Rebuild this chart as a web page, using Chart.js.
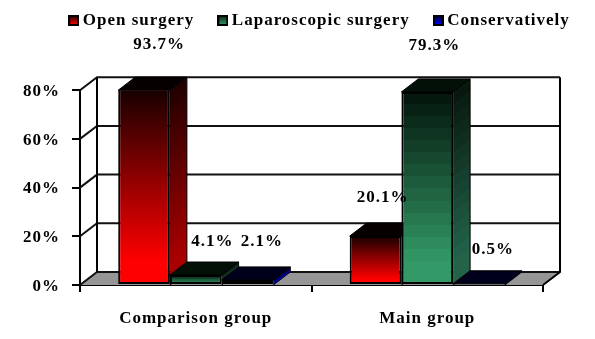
<!DOCTYPE html>
<html>
<head>
<meta charset="utf-8">
<style>
    html, body { margin: 0; padding: 0; background: #fff; }
    canvas { display: block; }
</style>
<script src="https://cdn.jsdelivr.net/npm/chart.js@4/dist/chart.umd.min.js"></script>
</head>
<body>
<canvas id="canvas" width="595" height="339"></canvas>
<script>
    var categories = ["Comparison group", "Main group"];
    var seriesNames = ["Open surgery", "Laparoscopic surgery", "Conservatively"];
    var openSurgery = [93.7, 20.1];
    var laparoscopic = [4.1, 79.3];
    var conservatively = [2.1, 0.5];

    /* where each value label sits, relative to its bar top */
    var labelShiftX = [[15, 7], [16.5, 7], [14.5, 14]];
    var labelShiftY = [[-46, -38], [-33, -46], [-38, -34]];

    var bottomColors = ["#ff0000", "#339966", "#0000ff"];
    var topColors = ["#180000", "#04180e", "#00001c"];
    var capColors = ["#060000", "#021008", "#00001c"];
    var sideColors = [["#200000", "#a80000"], ["#08180f", "#22634a"], ["#00001c", "#0000c0"]];
    var bands = [0, 16, 0];

    var depthX = 17;
    var depthY = 13;
    var fontFamily = "'Liberation Serif', 'Times New Roman', serif";
    var fontSize = 17;

    /* vertical fade, with hard steps when the series is banded */
    var fillStops = function (gradient, from, to, steps) {
        if (!steps) {
            gradient.addColorStop(0, from);
            gradient.addColorStop(0.88, to);
            gradient.addColorStop(1, to);
            return gradient;
        }
        var a = Chart.helpers.color(from), b = Chart.helpers.color(to);
        for (var i = 0; i < steps; i++) {
            var t = Math.min(1, i / (steps - 1) / 0.9);
            var c = a.clone().mix(b, 1 - t).rgbString();
            gradient.addColorStop(i / steps, c);
            gradient.addColorStop((i + 1) / steps, c);
        }
        return gradient;
    };

    var barFill = function (context) {
        var chart = context.chart, y = chart.scales.y;
        var value = Math.min(context.raw, y.max);
        var top = y.getPixelForValue(value), base = y.getPixelForValue(0);
        var i = context.datasetIndex;
        var gradient = chart.ctx.createLinearGradient(0, top, 0, base);
        return fillStops(gradient, topColors[i], bottomColors[i], bands[i]);
    };

    var legendMarker = function (i) {
        var c = document.createElement("canvas");
        c.width = 11;
        c.height = 11;
        var g = c.getContext("2d");
        g.fillStyle = fillStops(g.createLinearGradient(0, 0, 0, 11), topColors[i], bottomColors[i], 0);
        g.fillRect(0, 0, 11, 11);
        g.strokeStyle = "#000";
        g.lineWidth = 2;
        g.strokeRect(1, 1, 9, 9);
        return c;
    };

    var spacing = {
        id: "spacing",
        beforeUpdate: function (chart) { chart.ctx.letterSpacing = "1px"; },
        beforeDraw: function (chart) { chart.ctx.letterSpacing = "1px"; },
        afterLayout: function (chart) {
            chart.legend.left += 24;
            chart.legend.right += 24;
        }
    };

    var line = function (ctx, points, width, color) {
        ctx.beginPath();
        ctx.moveTo(points[0][0], points[0][1]);
        for (var i = 1; i < points.length; i++) {
            ctx.lineTo(points[i][0], points[i][1]);
        }
        ctx.lineWidth = width;
        ctx.strokeStyle = color;
        ctx.stroke();
    };

    var box3d = {
        id: "box3d",
        beforeDatasetsDraw: function (chart) {
            var ctx = chart.ctx, area = chart.chartArea, yScale = chart.scales.y;
            var left = area.left, right = area.right, base = area.bottom;
            ctx.save();

            /* floor */
            ctx.beginPath();
            ctx.moveTo(left, base);
            ctx.lineTo(left + depthX, base - depthY);
            ctx.lineTo(right + depthX, base - depthY);
            ctx.lineTo(right, base);
            ctx.closePath();
            ctx.fillStyle = "#969696";
            ctx.fill();

            /* back wall grid */
            yScale.ticks.forEach(function (tick) {
                var y = yScale.getPixelForValue(tick.value);
                line(ctx, [[left, y], [left + depthX, y - depthY], [right + depthX, y - depthY]], 2, "#111");
            });
            line(ctx, [[left + depthX, area.top - depthY], [left + depthX, base - depthY]], 2, "#000");
            line(ctx, [[right + depthX, area.top - depthY], [right + depthX, base - depthY], [right, base]], 2, "#000");

            /* bar tops and sides, left to right so later bars cover earlier ones */
            for (var c = 0; c < categories.length; c++) {
                for (var d = 0; d < chart.data.datasets.length; d++) {
                    var bar = chart.getDatasetMeta(d).data[c];
                    var x0 = bar.x - bar.width / 2, x1 = bar.x + bar.width / 2;
                    var top = Math.max(bar.y, area.top);

                    ctx.beginPath();
                    ctx.moveTo(x0, top);
                    ctx.lineTo(x0 + depthX, top - depthY);
                    ctx.lineTo(x1 + depthX, top - depthY);
                    ctx.lineTo(x1, top);
                    ctx.closePath();
                    ctx.fillStyle = capColors[d];
                    ctx.fill();
                    ctx.lineWidth = 1;
                    ctx.strokeStyle = "#000";
                    ctx.stroke();

                    /* side face, skewed so the bands run with the depth */
                    ctx.save();
                    ctx.transform(1, -depthY / depthX, 0, 1, x1, 0);
                    var gradient = ctx.createLinearGradient(0, top, 0, base);
                    fillStops(gradient, sideColors[d][0], sideColors[d][1], bands[d]);
                    ctx.fillStyle = gradient;
                    ctx.fillRect(0, top, depthX, base - top);
                    ctx.restore();

                    ctx.beginPath();
                    ctx.moveTo(x1, top);
                    ctx.lineTo(x1 + depthX, top - depthY);
                    ctx.lineTo(x1 + depthX, base - depthY);
                    ctx.lineTo(x1, base);
                    ctx.lineWidth = 1;
                    ctx.strokeStyle = "#000";
                    ctx.stroke();
                }
            }
            ctx.restore();
        },
        afterDraw: function (chart) {
            var ctx = chart.ctx, area = chart.chartArea;
            ctx.save();
            ctx.font = "bold " + fontSize + "px " + fontFamily;
            ctx.fillStyle = "#000";
            ctx.textAlign = "center";
            ctx.textBaseline = "middle";
            chart.data.datasets.forEach(function (dataset, d) {
                dataset.data.forEach(function (value, c) {
                    var bar = chart.getDatasetMeta(d).data[c];
                    var top = Math.max(bar.y, area.top);
                    ctx.fillText(value + "%", bar.x + labelShiftX[d][c], top + labelShiftY[d][c]);
                });
            });
            ctx.restore();
        }
    };

    var seriesValues = [openSurgery, laparoscopic, conservatively];
    var datasets = seriesNames.map(function (name, i) {
        return {
            label: name,
            data: seriesValues[i],
            backgroundColor: barFill,
            borderColor: "#000",
            borderWidth: 2,
            borderSkipped: false,
            categoryPercentage: 0.67,
            barPercentage: 1
        };
    });

    var config = {
        type: "bar",
        data: {
            labels: categories,
            datasets: datasets
        },
        plugins: [spacing, box3d],
        options: {
            responsive: false,
            animation: false,
            layout: { padding: { top: -16, right: 0, bottom: 0, left: 0 } },
            font: { family: fontFamily },
            plugins: {
                tooltip: { enabled: false },
                title: {
                    display: true,
                    text: "",
                    weight: 500,
                    font: { size: 1 },
                    padding: { top: 0, bottom: 50 }
                },
                legend: {
                    position: "top",
                    labels: {
                        color: "#000",
                        font: { family: fontFamily, size: fontSize, weight: "bold" },
                        padding: 28,
                        usePointStyle: true,
                        pointStyleWidth: 1,
                        generateLabels: function (chart) {
                            return chart.data.datasets.map(function (dataset, i) {
                                return {
                                    text: dataset.label,
                                    datasetIndex: i,
                                    fontColor: "#000",
                                    lineWidth: 0,
                                    pointStyle: legendMarker(i)
                                };
                            });
                        }
                    }
                }
            },
            scales: {
                x: {
                    afterFit: function (scale) { scale.height = 54; },
                    border: { color: "#000", width: 2 },
                    grid: { drawOnChartArea: false, color: "#000", lineWidth: 2, tickLength: 7 },
                    ticks: {
                        color: "#000",
                        padding: 16,
                        maxRotation: 0,
                        font: { family: fontFamily, size: fontSize, weight: "bold" }
                    }
                },
                y: {
                    min: 0,
                    max: 80,
                    afterFit: function (scale) { scale.width = 80; },
                    border: { color: "#000", width: 2 },
                    grid: { drawOnChartArea: false, color: "#000", lineWidth: 2, tickLength: 8 },
                    ticks: {
                        stepSize: 20,
                        color: "#000",
                        padding: 12,
                        labelOffset: 1.5,
                        font: { family: fontFamily, size: fontSize, weight: "bold" },
                        callback: function (value) { return value + "%"; }
                    }
                },
                /* empty axis, only keeps the right margin free for the wall depth */
                margin: {
                    position: "right",
                    afterFit: function (scale) { scale.width = 52; },
                    border: { display: false },
                    grid: { display: false },
                    ticks: { display: false }
                }
            }
        }
    };

    var ctx = document.getElementById("canvas").getContext("2d");
    new Chart(ctx, config);
</script>
</body>
</html>
